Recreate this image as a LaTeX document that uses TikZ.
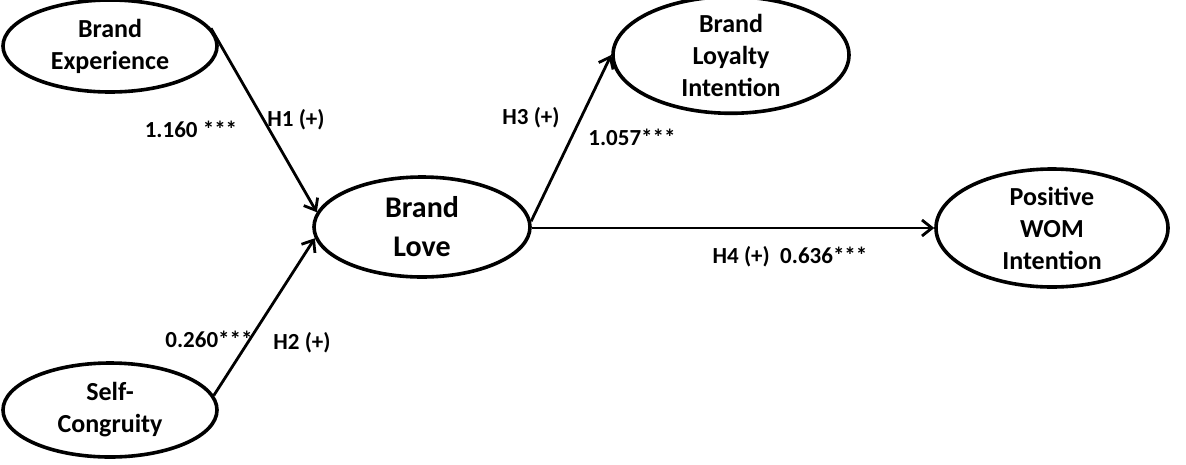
\documentclass[tikz,border=0pt]{standalone}
\usepackage{fontspec}
\setmainfont{Carlito}
\usetikzlibrary{shapes.geometric,arrows.meta}
\begin{document}
\begin{tikzpicture}[x=1pt,y=-1pt,
  construct/.style={ellipse,draw,line width=3.6pt,inner sep=0pt,align=center,
    font=\bfseries\fontsize{26}{32}\selectfont},
  path/.style={line width=2.8pt,-{Straight Barb[length=10pt,width=16pt,line width=2.8pt]}},
  lbl/.style={font=\bfseries\fontsize{23}{27}\selectfont,inner sep=0pt}]
\useasboundingbox (0,0) rectangle (1186,464);
\node[construct,minimum width=214,minimum height=92] (be) at (110,46) {Brand\\Experience};
\node[construct,minimum width=214,minimum height=94] (sc) at (110,410) {Self-\\Congruity};
\node[construct,minimum width=216,minimum height=100,font=\bfseries\fontsize{30}{39}\selectfont] (bl) at (422,227) {Brand\\Love};
\node[construct,minimum width=236,minimum height=108] (li) at (731,55) {Brand\\Loyalty\\Intention};
\node[construct,minimum width=232,minimum height=118] (wom) at (1052,228) {Positive\\WOM\\Intention};
\draw[path] (be.10) -- (bl.172);
\draw[path] (sc.8) -- (bl.186);
\draw[path] (bl.3) -- (li.180);
\draw[path] (bl.east |- wom.west) -- (wom.west);
\node[lbl] (l1) at (191,129) {1.160 ***};
\node[lbl] (h1) at (296,120) {H1 (+)};
\node[lbl] (l2) at (209,339) {0.260***};
\node[lbl] (h2) at (302,343) {H2 (+)};
\node[lbl] (h3) at (531,118) {H3 (+)};
\node[lbl] (l3) at (632,137) {1.057***};
\node[lbl] (h4) at (790,257) {H4 (+)\ \ 0.636***};
\end{tikzpicture}
\end{document}
